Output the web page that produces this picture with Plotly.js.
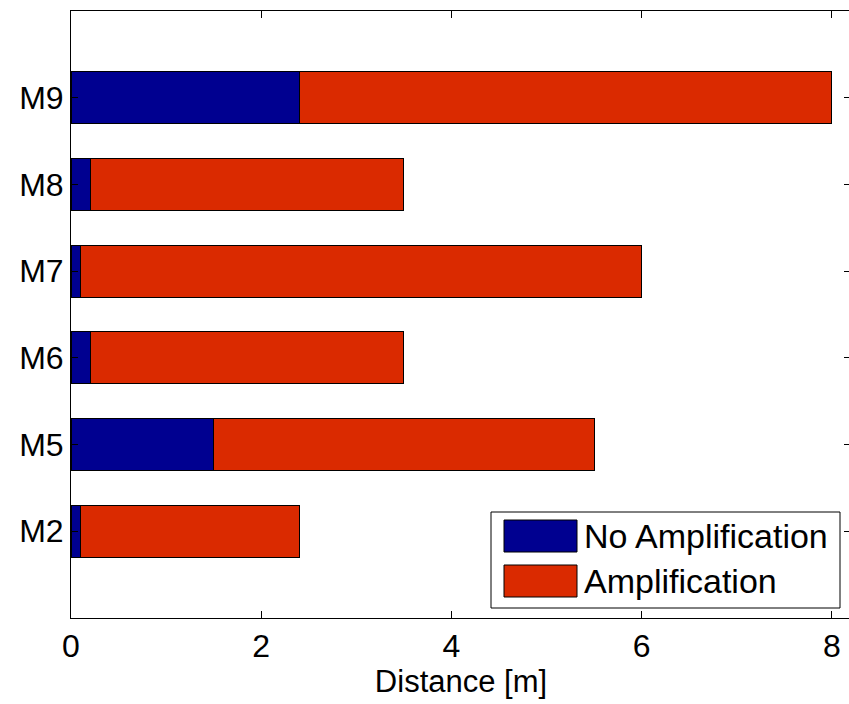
<!DOCTYPE html>
<html>
<head>
<meta charset="utf-8">
<script src="https://cdn.plot.ly/plotly-3.0.1.min.js"></script>
<style>
html, body { margin: 0; padding: 0; overflow: hidden; background: #fff; }
#chart { width: 851px; height: 704px; }
</style>
</head>
<body>
<div id="chart"></div>
<script>
// Data
const categories = ["M2", "M5", "M6", "M7", "M8", "M9"];
const noAmplification = [0.1, 1.5, 0.2, 0.1, 0.2, 2.4];
const amplification = [2.3, 4.0, 3.3, 5.9, 3.3, 5.6];
const seriesNames = ["No Amplification", "Amplification"];
const seriesColors = ["#000090", "#DA2A00"];
const xTicks = [0, 2, 4, 6, 8];

const FONT = "Liberation Sans, Arial, Helvetica, sans-serif";
const W = 851, H = 704;
const M = { l: 71, r: 0, t: 11, b: 86 };
const PW = W - M.l - M.r, PH = H - M.t - M.b;
const px = x => (x - M.l) / PW;
const py = y => (H - M.b - y) / PH;

const traces = [noAmplification, amplification].map((vals, i) => ({
  type: "bar",
  orientation: "h",
  y: categories,
  x: vals,
  name: seriesNames[i],
  width: 0.6,
  marker: { color: seriesColors[i], line: { color: "#000000", width: 1 } },
  showlegend: false,
  hoverinfo: "x+y+name"
}));

// Custom legend (MATLAB-style big swatches)
const shapes = [
  { type: "rect", xref: "paper", yref: "paper", x0: px(491), x1: px(840), y0: py(608), y1: py(512),
    line: { color: "#000", width: 1 }, fillcolor: "#fff", layer: "above" }
];
const annotations = [];
const rowY = [536, 581];
seriesNames.forEach((n, i) => {
  shapes.push({ type: "rect", xref: "paper", yref: "paper", x0: px(504), x1: px(577),
    y0: py(rowY[i] + 16), y1: py(rowY[i] - 16), line: { color: "#000", width: 1 },
    fillcolor: seriesColors[i], layer: "above" });
  annotations.push({ xref: "paper", yref: "paper", x: px(582), y: py(rowY[i]), xanchor: "left",
    yanchor: "middle", text: n, showarrow: false, font: { family: FONT, size: 34, color: "#000" } });
});

const layout = {
  width: W, height: H,
  margin: M,
  paper_bgcolor: "#fff", plot_bgcolor: "#fff",
  barmode: "stack",
  bargap: 0.4,
  font: { family: FONT, size: 32, color: "#000" },
  xaxis: {
    range: [0, 8.2],
    tickvals: xTicks,
    ticktext: xTicks.map(String),
    ticks: "inside", ticklen: 7, tickcolor: "#000",
    showline: true, linecolor: "#000", linewidth: 1, mirror: "ticks",
    showgrid: false, zeroline: false,
    tickfont: { family: FONT, size: 32 },
    title: { text: "Distance [m]", font: { family: FONT, size: 31 }, standoff: 4 }
  },
  yaxis: {
    type: "category",
    categoryorder: "array", categoryarray: categories,
    range: [-1, 6],
    ticks: "inside", ticklen: 7, tickcolor: "#000",
    showline: true, linecolor: "#000", linewidth: 1, mirror: "ticks",
    showgrid: false, zeroline: false,
    tickfont: { family: FONT, size: 32 }
  },
  shapes: shapes,
  annotations: annotations,
  showlegend: false
};

Plotly.newPlot("chart", traces, layout, { displayModeBar: false, staticPlot: true });
</script>
</body>
</html>
